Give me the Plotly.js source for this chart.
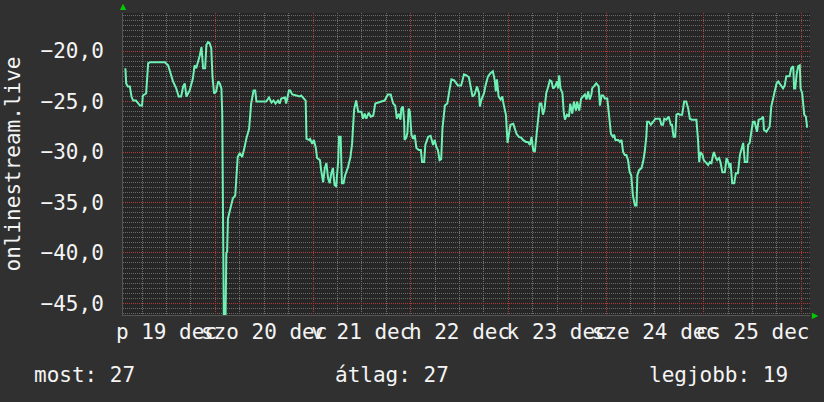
<!DOCTYPE html>
<html>
<head>
<meta charset="utf-8">
<script src="https://cdn.plot.ly/plotly-3.0.1.min.js"></script>
<style>
  html, body { margin: 0; padding: 0; background: #303030; }
  #chart { width: 824px; height: 402px; }
</style>
</head>
<body>
<div id="chart"></div>
<script>
// Hours since 2014-12-19 00:00
const hours = [
  1.9,2.1,2.5,3.0,3.4,3.8,4.5,5.5,6.0,6.2,7.0,7.5,8.0,11.6,12.4,12.8,13.2,13.6,14.4,15.0,
  15.6,16.1,16.5,16.9,17.3,17.7,18.5,18.9,19.3,19.7,20.2,20.6,21.0,21.5,21.8,22.2,22.6,23.0,23.3,23.7,
  24.2,24.7,25.1,25.5,25.7,26.1,26.5,26.7,26.9,27.1,27.5,28.3,28.9,29.2,29.5,30.0,30.6,31.2,31.6,32.3,
  32.8,33.4,33.8,34.1,36.5,37.2,37.8,38.3,38.8,39.4,39.8,40.2,41.1,41.4,41.8,42.1,42.4,42.9,43.9,44.7,
  45.1,45.7,46.2,46.4,47.0,47.3,47.8,48.2,48.7,49.0,49.7,50.0,50.5,50.9,51.3,51.7,52.1,52.5,52.9,53.3,
  53.7,54.2,54.4,54.8,55.1,55.5,55.9,56.6,57.2,57.6,57.9,58.1,58.6,59.1,59.9,60.3,60.7,61.1,61.7,62.2,
  62.8,63.3,64.8,65.6,66.4,67.1,67.7,68.2,68.6,69.1,69.5,69.7,70.1,70.4,70.5,70.9,71.2,71.5,71.8,72.2,
  72.6,73.0,73.4,74.0,74.5,74.8,75.3,75.6,76.3,76.9,77.5,77.9,78.3,78.7,79.1,79.5,79.8,80.4,81.0,81.4,
  81.6,82.0,82.7,83.6,84.4,85.1,85.7,86.3,86.7,87.2,87.7,88.3,88.8,89.0,89.4,90.0,90.4,91.0,91.6,92.2,
  92.7,92.9,93.2,93.6,94.1,94.5,94.9,95.4,95.8,96.2,96.5,97.2,97.6,98.0,98.6,99.2,99.6,100.3,100.8,101.3,
  101.7,102.1,102.5,102.9,103.3,103.7,104.1,104.5,104.9,105.3,105.8,106.2,106.6,107.0,107.5,108.0,108.2,108.5,108.8,109.3,
  109.6,109.9,110.4,110.9,111.2,111.7,112.1,112.6,112.9,113.4,113.9,114.4,114.8,115.2,115.6,116.0,116.4,116.6,117.1,117.6,
  118.2,118.5,118.9,119.3,119.7,120.3,120.7,121.2,121.7,122.0,122.3,123.0,123.4,123.8,124.2,124.6,125.0,125.4,125.8,126.2,
  126.6,127.1,127.5,127.7,128.1,128.7,129.1,129.5,129.9,130.1,130.5,131.0,131.6,132.1,133.2,133.6,134.0,134.3,134.8,135.4,
  135.9,136.2,136.6,137.0,137.3,137.7,138.1,138.7,139.2,139.7,140.2,140.6,141.1,141.6,142.2,142.6,142.9,143.2,143.7,144.0,
  144.5,145.1,145.5,145.9,146.3,146.5,147.0,147.3,147.8,148.1,148.6,149.2,149.6,150.0,150.4,150.6,151.0,151.5,151.9,152.4,
  152.9,153.3,153.7,154.1,154.7,154.9,155.3,155.7,156.1,156.5,156.8,157.1,157.5,158.2,158.6,158.8,159.4,159.8,160.2,160.6,
  161.0,161.5,161.9,162.3,162.7,163.1,163.5,163.9,164.3,165.1,165.5,166.0,166.2,166.5,166.8,167.2,167.6,167.8,168.2,168.7,
  169.1,169.4,169.6
];
const values = [
  -21.7,-23.2,-23.5,-23.5,-24.5,-24.9,-24.9,-25.4,-25.4,-24.4,-24.2,-21.2,-21.1,-21.1,-21.4,-21.9,-22.4,-23.0,-23.7,-24.5,
  -24.5,-23.5,-23.2,-24.5,-24.2,-23.9,-22.7,-21.4,-21.7,-21.2,-20.4,-19.6,-21.7,-21.7,-19.4,-19.1,-19.2,-19.7,-22.5,-24.2,
  -24.0,-23.0,-23.2,-23.7,-26.2,-47.0,-47.0,-40.0,-39.9,-36.6,-35.9,-34.6,-34.3,-31.7,-30.5,-30.1,-30.5,-29.5,-28.7,-27.7,
  -25.2,-23.9,-23.9,-25.0,-25.0,-24.6,-25.1,-24.9,-25.2,-24.9,-25.2,-24.7,-24.6,-25.2,-24.6,-23.9,-23.9,-24.3,-24.4,-24.5,
  -24.4,-24.7,-24.9,-28.7,-28.8,-28.7,-29.2,-28.8,-29.6,-30.6,-30.8,-31.8,-33.0,-31.6,-31.1,-32.6,-33.1,-32.1,-31.6,-33.3,
  -33.4,-30.8,-28.5,-28.5,-33.1,-33.1,-32.3,-31.5,-30.5,-29.2,-27.5,-25.8,-24.9,-26.0,-26.0,-26.7,-26.2,-26.7,-26.1,-26.5,
  -26.4,-25.2,-25.0,-24.9,-24.3,-24.3,-25.2,-25.4,-26.7,-26.2,-26.8,-25.7,-25.5,-27.0,-28.8,-28.6,-28.1,-25.7,-26.0,-28.3,
  -28.7,-28.3,-29.6,-29.8,-29.8,-31.0,-31.0,-29.3,-28.5,-28.4,-29.3,-28.8,-29.5,-29.8,-30.8,-30.7,-27.7,-25.4,-25.2,-24.4,
  -23.7,-22.8,-22.9,-23.4,-23.4,-22.3,-22.4,-22.6,-23.4,-24.5,-24.3,-23.5,-24.2,-25.5,-24.8,-24.2,-23.4,-22.5,-22.2,-22.0,
  -23.0,-24.0,-22.8,-24.5,-24.8,-24.5,-25.4,-26.3,-29.1,-28.0,-27.3,-27.2,-27.8,-28.2,-28.5,-28.6,-28.8,-29.0,-29.0,-29.3,
  -28.5,-29.8,-30.0,-28.3,-26.2,-25.2,-25.2,-26.3,-25.7,-24.2,-23.5,-22.9,-23.0,-23.7,-23.5,-23.0,-23.7,-22.4,-23.7,-24.2,
  -26.0,-26.8,-26.3,-26.5,-25.2,-26.2,-25.0,-25.9,-25.0,-25.9,-24.7,-24.5,-24.3,-24.8,-24.0,-24.8,-24.3,-23.7,-23.4,-23.2,
  -23.5,-25.4,-24.4,-24.4,-24.7,-24.7,-26.2,-28.2,-28.5,-28.3,-28.8,-28.8,-29.0,-28.8,-30.0,-30.3,-30.3,-30.8,-32.0,-32.3,
  -34.3,-35.3,-35.3,-32.3,-31.8,-31.6,-31.0,-30.0,-28.5,-27.0,-27.0,-27.3,-27.0,-26.7,-26.7,-27.3,-27.3,-26.7,-26.8,-26.5,
  -27.3,-27.3,-28.5,-28.5,-26.3,-26.2,-26.3,-26.3,-25.0,-25.0,-25.7,-26.7,-26.8,-26.8,-26.8,-28.8,-31.0,-30.0,-30.3,-30.8,
  -31.0,-31.3,-31.0,-31.1,-30.3,-30.0,-30.6,-30.8,-30.6,-31.0,-32.0,-32.0,-30.6,-31.0,-31.6,-31.1,-33.1,-33.1,-32.1,-32.1,
  -30.3,-29.6,-29.1,-31.0,-31.0,-29.3,-29.1,-28.0,-27.0,-27.0,-27.6,-28.0,-26.8,-26.7,-26.5,-27.8,-28.0,-27.8,-27.5,-25.5,
  -24.7,-24.0,-23.2,-23.0,-23.2,-23.5,-23.7,-23.4,-22.5,-22.5,-21.7,-21.5,-23.7,-23.7,-22.4,-21.5,-21.4,-23.7,-24.2,-26.3,
  -26.5,-27.5,-27.5
];
const dayDates = ['2014-12-19','2014-12-20','2014-12-21','2014-12-22','2014-12-23','2014-12-24','2014-12-25'];
const dayLabels = ['p 19 dec','szo 20 dec','v 21 dec','h 22 dec','k 23 dec','sze 24 dec','cs 25 dec'];
const yTitle = 'onlinestream.live';
const summary = ['most: 27', 'átlag: 27', 'legjobb: 19'];

const t0 = Date.UTC(2014, 11, 19);
const times = hours.map(h => new Date(t0 + Math.round(h * 3600000)).toISOString().slice(0, 19).replace('T', ' '));
const xRange = ['2014-12-19 01:19:00', '2014-12-26 02:07:00'];
const mono = 'DejaVu Sans Mono, monospace';
const FS = 21;
const txt = '#f4f4f4';

const traces = [
  { x: times, y: values, type: 'scatter', mode: 'lines', xaxis: 'x', yaxis: 'y',
    line: { color: '#6ff0b4', width: 2, shape: 'linear' }, hoverinfo: 'skip', showlegend: false },
  { x: [], y: [], type: 'scatter', mode: 'lines', xaxis: 'x2', yaxis: 'y', showlegend: false, hoverinfo: 'skip' }
];

const layout = {
  width: 824, height: 402,
  margin: { l: 123, r: 14, t: 13, b: 87 },
  paper_bgcolor: '#303030',
  plot_bgcolor: '#262626',
  font: { family: mono, size: FS, color: txt },
  showlegend: false,
  xaxis: {
    type: 'date', range: xRange,
    tickmode: 'linear', tick0: '2014-12-19 00:00:00', dtick: 86400000,
    showticklabels: false, ticks: '',
    showgrid: true, gridcolor: '#b03a3a', gridwidth: 1, griddash: '1px,1px',
    minor: { tick0: '2014-12-19 00:00:00', dtick: 21600000, showgrid: true, gridcolor: '#707070', gridwidth: 1, griddash: '1px,1px', ticks: '' },
    showline: true, linecolor: '#555555', linewidth: 1,
    zeroline: false, fixedrange: true
  },
  xaxis2: {
    type: 'date', range: xRange, overlaying: 'x', anchor: 'y', side: 'bottom',
    tickmode: 'array', tickvals: dayDates.map(d => d + ' 12:00:00'), ticktext: dayLabels,
    tickangle: 0, ticks: '', ticklabelstandoff: 2,
    tickfont: { family: mono, size: FS, color: txt },
    showgrid: false, zeroline: false, showline: false, fixedrange: true
  },
  yaxis: {
    range: [-46.16, -16.22],
    tickmode: 'linear', tick0: 0, dtick: 5, tickformat: '.1f',
    ticks: '', ticklabelstandoff: 14,
    tickfont: { family: mono, size: FS, color: txt },
    showgrid: true, gridcolor: '#b03a3a', gridwidth: 1, griddash: '1px,1px',
    minor: { tick0: 0, dtick: 0.5, showgrid: true, gridcolor: '#6a6a6a', gridwidth: 1, griddash: '1px,1px', ticks: '' },
    showline: true, linecolor: '#555555', linewidth: 1,
    zeroline: false, fixedrange: true,
    title: { text: yTitle, font: { family: mono, size: FS, color: txt }, standoff: 14 }
  },
  separators: ',.',
  annotations: [
    { xref: 'paper', yref: 'paper', x: -0.133, y: -0.199, xanchor: 'left', yanchor: 'middle',
      text: summary[0], showarrow: false, font: { family: mono, size: FS, color: txt } },
    { xref: 'paper', yref: 'paper', x: 0.3916, y: -0.199, xanchor: 'center', yanchor: 'middle',
      text: summary[1], showarrow: false, font: { family: mono, size: FS, color: txt } },
    { xref: 'paper', yref: 'paper', x: 0.9709, y: -0.199, xanchor: 'right', yanchor: 'middle',
      text: summary[2], showarrow: false, font: { family: mono, size: FS, color: txt } },
    { xref: 'paper', yref: 'paper', x: 0, y: 1, xanchor: 'center', yanchor: 'bottom',
      text: '▲', showarrow: false, font: { family: 'DejaVu Sans', size: 8, color: '#00cc00' } },
    { xref: 'paper', yref: 'paper', x: 1, y: 0, xanchor: 'left', yanchor: 'middle',
      text: '▶', showarrow: false, font: { family: 'DejaVu Sans', size: 8, color: '#00cc00' } }
  ]
};

Plotly.newPlot('chart', traces, layout, { staticPlot: true, displayModeBar: false });
</script>
</body>
</html>
